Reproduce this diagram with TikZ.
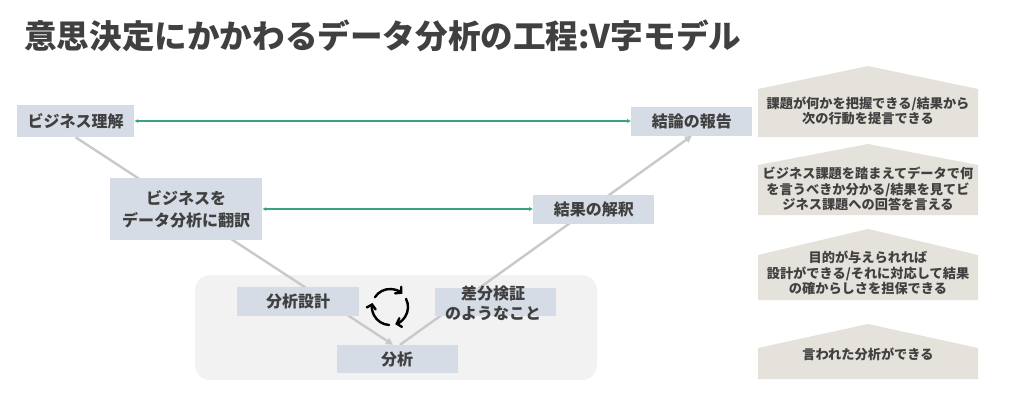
\documentclass[tikz,border=0pt]{standalone}
\usepackage{fontspec}
\setmainfont{Noto Sans CJK JP}
\usepackage{tikz}
\usetikzlibrary{arrows.meta}
\usetikzlibrary{positioning}
\definecolor{boxblue}{HTML}{D6DCE5}
\definecolor{txtgray}{HTML}{404040}
\definecolor{panelgray}{HTML}{F2F2F2}
\definecolor{housebeige}{HTML}{E5E1DB}
\definecolor{linkgreen}{HTML}{3BA37A}
\definecolor{vgray}{HTML}{C9C9C9}
\pgfdeclarelayer{panel}
\pgfdeclarelayer{lines}
\pgfsetlayers{panel,lines,main}
\tikzset{
  vbox/.style={fill=boxblue, text=txtgray, font=\bfseries\fontsize{16}{22}\selectfont,
    minimum width=121pt, minimum height=29pt, inner sep=0pt, align=center},
  boxtext/.style={text=txtgray, font=\bfseries\fontsize{16}{20}\selectfont, align=center, inner sep=0pt},
  housetext/.style={text=txtgray, font=\bfseries\fontsize{13.2}{15.5}\selectfont, align=center, inner sep=0pt},
  house/.style={fill=housebeige},
  vline/.style={draw=vgray, line width=2.4pt, -{Triangle[length=7pt,width=7pt]}},
  linkarrow/.style={draw=linkgreen, line width=1.2pt, {Latex[length=4pt,width=4pt]}-{Latex[length=4pt,width=4pt]}},
  cycarrow/.style={draw=black, line width=2.4pt, line cap=round, -{Straight Barb[length=4pt,width=9pt,line cap=round]}},
}
\begin{document}
\begin{tikzpicture}[x=1pt,y=-1pt]
    \useasboundingbox (0,0) rectangle (1024,413);
    \node[anchor=west, text=txtgray, font=\bfseries\fontsize{32.6}{32.6}\selectfont, inner sep=0pt]
      (title) at (24,36) {意思決定にかかわるデータ分析の工程:V字モデル};

    % V-model boxes
    \node[vbox, minimum width=117pt, minimum height=32pt] (biz) at (75.5,121) {ビジネス理解};
    \node[vbox, minimum width=152pt, minimum height=62pt] (honyaku) at (186,209) {ビジネスを\\データ分析に翻訳};
    \node[vbox, minimum width=122pt] (sekkei) at (298,301.5) {分析設計};
    \node[vbox, minimum height=28pt] (bunseki) at (397,359) {分析};
    \node[vbox, minimum height=28pt] (sabun) at (495.5,302) {};
    \node[boxtext] (sabuntext) at (493,303) {差分検証\\のようなこと};
    \node[vbox, right=271pt of honyaku] (kaishaku) {結果の解釈};
    \node[vbox, right=497pt of biz] (ketsuron) {結論の報告};

    % analysis loop
    \begin{pgfonlayer}{panel}
      \fill[panelgray, rounded corners=15pt] (195,275) rectangle (597,380);
    \end{pgfonlayer}
    \coordinate (cyc) at (390,307);
    \foreach \a in {47,-73,167}
      \draw[cycarrow] ([shift={(\a+100:18pt)}]cyc) arc[start angle=\a+100, end angle=\a, radius=18pt];

    % connectors
    \begin{pgfonlayer}{lines}
      \draw[vline] (biz.south) -- ([xshift=-4pt]bunseki.north);
      \draw[vline] ([xshift=3pt]bunseki.north) -- (ketsuron.south);
    \end{pgfonlayer}
    \draw[linkarrow] (biz) -- (ketsuron);
    \draw[linkarrow] (honyaku) -- (kaishaku);

    % skill levels
    \foreach \ap/\sh/\bt in {66/89/137, 144/165/215, 229/255/300, 324/348/379}
      \fill[house] (758,\sh) -- (868,\ap) -- (978,\sh) -- (978,\bt) -- (758,\bt) -- cycle;
    \node[housetext] (lv1) at (868,111) {課題が何かを把握できる/結果から\\次の行動を提言できる};
    \node[housetext] (lv2) at (868,189) {ビジネス課題を踏まえてデータで何\\を言うべきか分かる/結果を見てビ\\ジネス課題への回答を言える};
    \node[housetext] (lv3) at (868,273) {目的が与えられれば\\設計ができる/それに対応して結果\\の確からしさを担保できる};
    \node[housetext] (lv4) at (868,354) {言われた分析ができる};
\end{tikzpicture}
\end{document}
